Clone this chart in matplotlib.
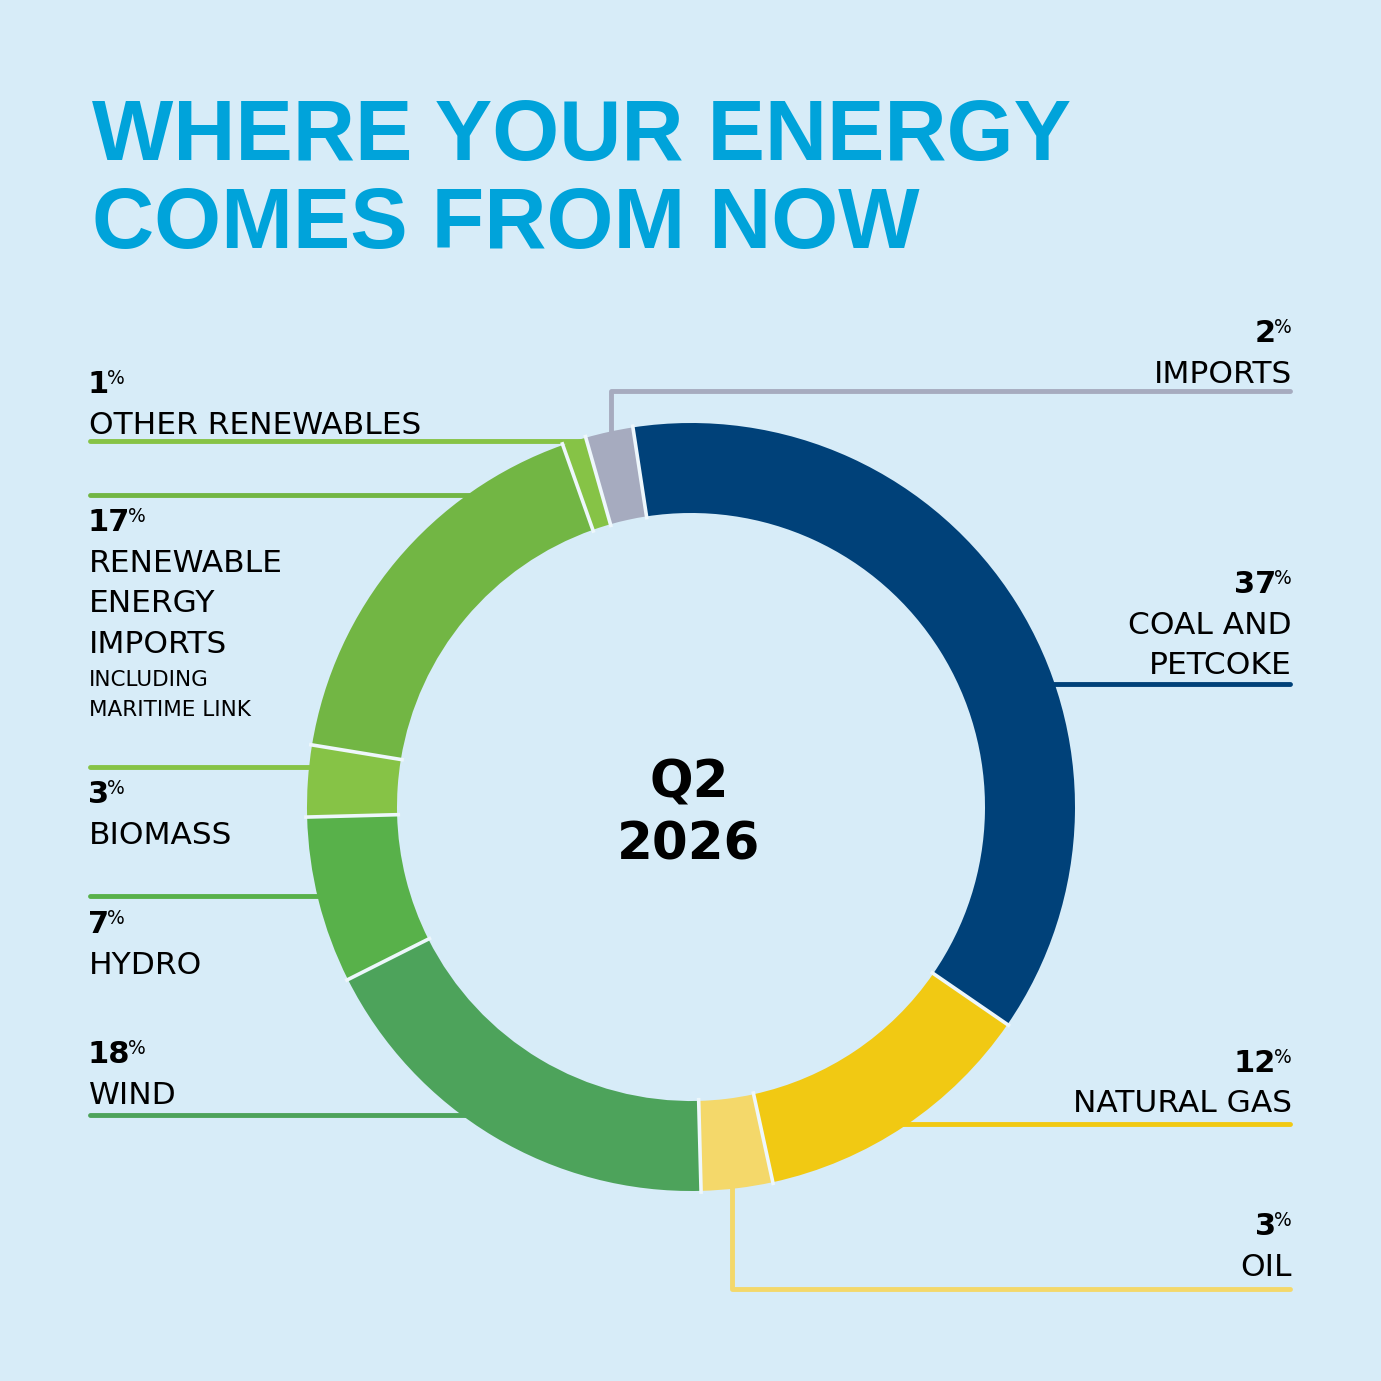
import matplotlib
matplotlib.use("Agg")
import matplotlib.pyplot as plt
import numpy as np

W = H = 1381
bg = "#d7ecf8"
title_blue = "#00a3da"
gap_col = "#eef7fc"

# data, clockwise from the top of the ring
shares = [37, 12, 3, 18, 7, 3, 17, 1, 2]
names = [["COAL AND", "PETCOKE"], ["NATURAL GAS"], ["OIL"], ["WIND"], ["HYDRO"],
         ["BIOMASS"], ["RENEWABLE", "ENERGY", "IMPORTS"], ["OTHER RENEWABLES"], ["IMPORTS"]]
notes = {6: ["INCLUDING", "MARITIME LINK"]}
colors = ["#004179", "#f1c913", "#f4d86a", "#4da35b", "#58b14a",
          "#86c346", "#72b644", "#86c346", "#a6abbf"]
title_lines = ["WHERE YOUR ENERGY", "COMES FROM NOW"]
period = ["Q2", "2026"]

# label layout: side, baseline of the number (pixel row from top)
label_pos = [("r", 593), ("r", 1072), ("r", 1235), ("l", 1063), ("l", 933),
             ("l", 803), ("l", 531), ("l", 393), ("r", 342)]
# leader lines, pixel coords from top-left
leaders = [
    [(1030, 684), (1290, 684)],
    [(880, 1124), (1290, 1124)],
    [(732, 1170), (732, 1289), (1290, 1289)],
    [(480, 1115), (90, 1115)],
    [(340, 896), (90, 896)],
    [(330, 767), (90, 767)],
    [(490, 495), (90, 495)],
    [(590, 441), (90, 441)],
    [(611, 450), (611, 391), (1290, 391)],
]


def Y(y):
    return H - y


fig = plt.figure(figsize=(W / 100, H / 100), dpi=100, facecolor=bg)
ax = fig.add_axes([0, 0, 1, 1])
ax.set_facecolor(bg)

cx, cy, R, ring = 691, Y(807), 384, 90
start = 98.7
wedges, _ = ax.pie(shares, colors=colors, startangle=start, counterclock=False,
                   radius=R, center=(cx, cy), frame=False,
                   wedgeprops=dict(width=ring, linewidth=0))
for w in wedges:
    w.set_zorder(3)

# thin light gaps between the segments
cum = np.concatenate([[0], np.cumsum(shares)])
for c in cum[:-1]:
    a = np.deg2rad(start - 360.0 * c / sum(shares))
    rr = np.array([R - ring - 3, R + 3])
    ax.plot(cx + rr * np.cos(a), cy + rr * np.sin(a), color=gap_col, lw=2.6,
            solid_capstyle="butt", zorder=4)

ax.set_xlim(0, W)
ax.set_ylim(0, H)
ax.set_aspect("equal")
ax.axis("off")

for pts, col in zip(leaders, colors):
    xs = [p[0] for p in pts]
    ys = [Y(p[1]) for p in pts]
    ax.plot(xs, ys, color=col, lw=3.5, solid_capstyle="round",
            solid_joinstyle="round", zorder=1)

# title
for line, base in zip(title_lines, [160, 248]):
    ax.text(92, Y(base), line, fontfamily="Liberation Sans", fontweight="bold",
            fontsize=62, color=title_blue, ha="left", va="baseline")

# centre
for line, base in zip(period, [797, 859]):
    ax.text(689, Y(base), line, fontfamily="DejaVu Sans", fontweight="bold",
            fontsize=37, color="black", ha="center", va="baseline")

rend = fig.canvas.get_renderer()
num_kw = dict(fontfamily="DejaVu Sans", fontweight="bold", fontsize=22,
              color="black", va="baseline")
pct_kw = dict(fontfamily="DejaVu Sans", fontsize=13.5, color="black", va="baseline")
name_kw = dict(fontfamily="DejaVu Sans", fontsize=22.5, color="black", va="baseline")
note_kw = dict(fontfamily="DejaVu Sans", fontsize=15.5, color="black", va="baseline")

for i, (side, base) in enumerate(label_pos):
    num = str(shares[i])
    if side == "l":
        t = ax.text(88, Y(base), num, ha="left", **num_kw)
        bb = t.get_window_extent(renderer=rend)
        ax.text(bb.x1 - 2, Y(base) + 9, "%", ha="left", **pct_kw)
        x, ha = 89, "left"
    else:
        p = ax.text(1292, Y(base) + 9, "%", ha="right", **pct_kw)
        bb = p.get_window_extent(renderer=rend)
        ax.text(bb.x0 + 2, Y(base), num, ha="right", **num_kw)
        x, ha = 1292, "right"
    last = base
    for k, line in enumerate(names[i]):
        last = base + 40.5 * (k + 1)
        ax.text(x, Y(last), line, ha=ha, **name_kw)
    for k, line in enumerate(notes.get(i, [])):
        ax.text(x, Y(last + 33 + 30 * k), line, ha=ha, **note_kw)

fig.savefig("out.png", dpi=100, facecolor=bg)
